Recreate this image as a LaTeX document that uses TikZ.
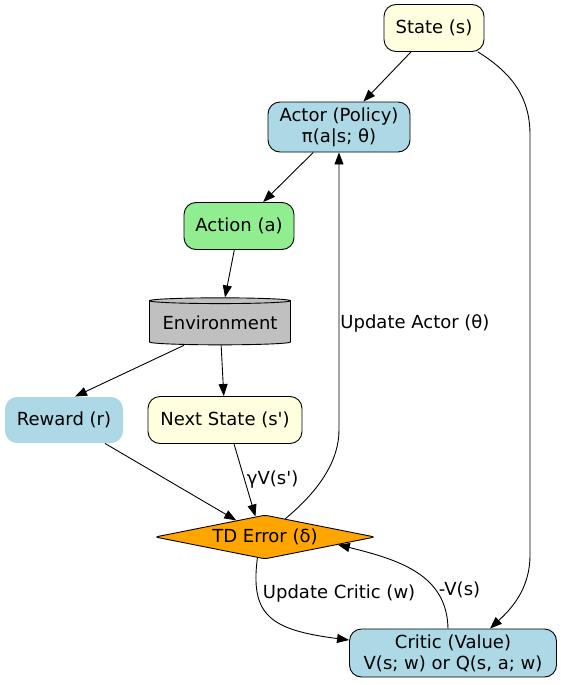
\documentclass[tikz,border=0pt]{standalone}
\usepackage{fontspec}
\setmainfont{DejaVu Sans}
\usetikzlibrary{shapes.geometric,arrows.meta}

\definecolor{stateyellow}{HTML}{FFFFE0}
\definecolor{netblue}{HTML}{ADD8E6}
\definecolor{actgreen}{HTML}{90EE90}
\definecolor{envgray}{HTML}{C0C0C0}
\definecolor{tdorange}{HTML}{FFA500}

\begin{document}
\begin{tikzpicture}[x=1pt,y=-1pt,
        box/.style={draw, rounded corners=12pt, line width=0.9pt, align=center,
            inner sep=0pt, font=\fontsize{18}{21}\selectfont},
        edge/.style={line width=0.9pt, -{Triangle[length=12pt,width=9pt]}},
        lbl/.style={font=\fontsize{18}{21}\selectfont, inner sep=1pt}]
        \useasboundingbox (0,0) rectangle (561,685);
        % nodes
        \node[box, fill=stateyellow, minimum width=100pt, minimum height=47pt] (state) at (434,28) {State (s)};
        \node[box, fill=netblue, minimum width=142pt, minimum height=50pt] (actor) at (339,127) {Actor (Policy)\\π(a|s; θ)};
        \node[box, fill=actgreen, minimum width=110pt, minimum height=47pt] (action) at (239,226) {Action (a)};
        \node[cylinder, shape border rotate=90, aspect=0.05, draw, line width=0.9pt, fill=envgray,
            minimum width=141pt, minimum height=47pt, inner sep=0pt,
            font=\fontsize{18}{21}\selectfont] (env) at (220,323) {Environment};
        \node[box, draw=none, fill=netblue, minimum width=118pt, minimum height=46pt] (reward) at (64,420) {Reward (r)};
        \node[box, fill=stateyellow, minimum width=154pt, minimum height=47pt] (next) at (225,420) {Next State (s\textquotesingle)};
        \node[diamond, aspect=5, draw, line width=0.9pt, fill=tdorange, rounded corners=3pt,
            minimum width=220pt, minimum height=44pt, inner sep=0pt,
            font=\fontsize{18}{21}\selectfont] (td) at (265,537) {TD Error (δ)};
        \node[box, fill=netblue, minimum width=207pt, minimum height=48pt] (critic) at (453,653) {Critic (Value)\\V(s; w) or Q(s, a; w)};
        % edges
        \draw[edge] (state) -- (actor);
        \draw[edge] ([xshift=44pt]state.south) .. controls (515,75) and (530,100) .. (530,135)
            -- (530,555) .. controls (530,590) and (510,610) .. ([xshift=37pt]critic.north);
        \draw[edge] (actor) -- (action);
        \draw[edge] (action) -- (env);
        \draw[edge] ([xshift=-36pt]env.south) -- ([xshift=11pt]reward.north);
        \draw[edge] (env) -- (next);
        \draw[edge] ([xshift=41pt]reward.south) -- (td.150);
        \draw[edge] ([xshift=9pt]next.south) -- node[lbl, pos=0.49, anchor=west, inner sep=2pt] {γV(s\textquotesingle)} (td.115);
        \draw[edge] (td.42) .. controls (320,490) and (339,460) .. (339,430)
            -- node[lbl, pos=0.385, anchor=west] {Update Actor (θ)} (actor.south);
        \draw[edge] (td.-110) .. controls (250,615) and (270,630) .. ([yshift=13pt]critic.west)
            node[lbl, pos=0.25, anchor=west, inner sep=2pt, xshift=3pt] {Update Critic (w)};
        \draw[edge] ([xshift=-5pt]critic.north) .. controls (447,575) and (400,560) .. (td.-6)
            node[lbl, pos=0.3, anchor=west, xshift=2pt] {-V(s)};
\end{tikzpicture}
\end{document}
